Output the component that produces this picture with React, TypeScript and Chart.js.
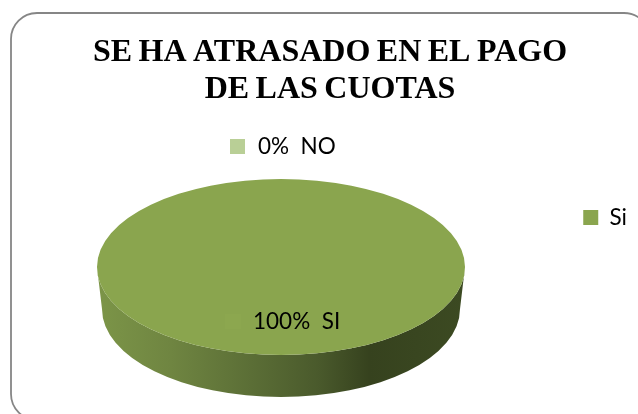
import React, { useEffect, useRef } from "react";
import { Chart, registerables } from "chart.js";

Chart.register(...registerables);

const categories = ["Si", "No"];
const shares = [100, 0];
const sliceLabels = ["100%  SI", "0%  NO"];
const titleLines = ["SE HA ATRASADO EN EL PAGO", "DE LAS CUOTAS"];
const sliceColors = ["#8aa54e", "#b9cf96"];

const LABEL_FONT = '22.5px "Lato", "Open Sans", sans-serif';

// Draws the rounded card behind everything and tightens the title's word gaps.
const cardPlugin = {
  id: "card",
  beforeDraw(chart: any) {
    const { ctx } = chart;
    ctx.save();
    ctx.fillStyle = "#ffffff";
    ctx.fillRect(0, 0, chart.width, chart.height);
    ctx.strokeStyle = "#868686";
    ctx.lineWidth = 1.8;
    ctx.beginPath();
    ctx.roundRect(11, 13, 639, 407, 26);
    ctx.stroke();
    ctx.restore();
    ctx.wordSpacing = "-1.5px";
  },
};

// Tilts the flat pie into a disc: squashes the arcs and adds the side wall.
const FACE_X = 281;
const FACE_Y = 267;
const TILT = 88 / 184;
const DEPTH_Y = 42;
const BASE_RX_RATIO = 179 / 184;

const tiltPlugin = {
  id: "tilt",
  beforeDatasetsDraw(chart: any) {
    const { ctx } = chart;
    ctx.wordSpacing = "0px";
    const arc = chart.getDatasetMeta(0).data[0];
    const rx = arc.outerRadius;
    const ry = rx * TILT;
    ctx.save();
    const grad = ctx.createLinearGradient(FACE_X - rx, 0, FACE_X + rx, 0);
    grad.addColorStop(0, "#7c9548");
    grad.addColorStop(0.2, "#6f8541");
    grad.addColorStop(0.42, "#5b6e36");
    grad.addColorStop(0.6, "#4a5a2c");
    grad.addColorStop(0.74, "#36421e");
    grad.addColorStop(1, "#3c4a22");
    ctx.fillStyle = grad;
    ctx.beginPath();
    ctx.ellipse(FACE_X, FACE_Y, rx, ry, 0, Math.PI, 0, true);
    ctx.ellipse(FACE_X, FACE_Y + DEPTH_Y, rx * BASE_RX_RATIO, ry, 0, 0, Math.PI, false);
    ctx.closePath();
    ctx.fill();
    ctx.restore();

    ctx.save();
    ctx.translate(FACE_X, FACE_Y);
    ctx.scale(1, TILT);
    ctx.translate(-arc.x, -arc.y);
  },
  afterDatasetsDraw(chart: any) {
    const { ctx } = chart;
    ctx.restore();

    ctx.save();
    ctx.font = LABEL_FONT;
    ctx.textBaseline = "middle";
    ctx.textAlign = "left";

    // Key and text for the empty slice, above the disc.
    ctx.fillStyle = sliceColors[1];
    ctx.fillRect(230, 139, 15, 15);
    ctx.fillStyle = "#000000";
    ctx.fillText(sliceLabels[1], 258, 147);

    // Key and text for the full slice, on the disc.
    ctx.fillStyle = "#8ca74f";
    ctx.fillRect(225, 314, 16, 15);
    ctx.fillStyle = "#000000";
    ctx.fillText(sliceLabels[0], 253, 322);
    ctx.restore();
  },
};

export default function App() {
  const ref = useRef<HTMLCanvasElement>(null);

  useEffect(() => {
    const chart = new Chart(ref.current!, {
      type: "pie",
      data: {
        labels: categories,
        datasets: [
          {
            data: shares,
            backgroundColor: sliceColors,
            borderWidth: 0,
          },
        ],
      },
      options: {
        animation: false,
        responsive: false,
        radius: 184,
        layout: { padding: { left: 23, top: 34, right: 1, bottom: 13 } },
        plugins: {
          title: {
            display: true,
            text: titleLines,
            color: "#000000",
            align: "center",
            font: { family: '"Liberation Serif", serif', size: 32, weight: "bold", lineHeight: 1.156 },
            padding: { top: 0, bottom: 10 },
          },
          legend: {
            position: "right",
            labels: {
              boxWidth: 15,
              boxHeight: 15,
              padding: 30,
              color: "#000000",
              font: { family: '"Lato", "Open Sans", sans-serif', size: 22.5 },
              filter: (item: any) => item.text === "Si",
            },
          },
          tooltip: { enabled: false },
        },
      } as any,
      plugins: [cardPlugin, tiltPlugin],
    });
    return () => chart.destroy();
  }, []);

  return (
    <div style={{ position: "absolute", left: 0, top: 0, width: 638, height: 414 }}>
      <canvas ref={ref} width={638} height={414} style={{ display: "block" }} />
    </div>
  );
}
